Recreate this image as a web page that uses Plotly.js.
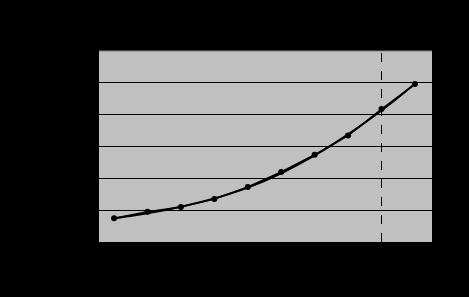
<!DOCTYPE html>
<html>
<head>
<meta charset="utf-8">
<script src="https://cdn.plot.ly/plotly-3.0.1.min.js"></script>
<style>html,body{margin:0;padding:0;background:#000;}#chart{width:469px;height:297px;}</style>
</head>
<body>
<div id="chart"></div>
<script>
var categories = [1, 2, 3, 4, 5, 6, 7, 8, 9, 10];
var values = [0.746, 0.953, 1.10, 1.353, 1.73, 2.20, 2.74, 3.345, 4.175, 4.96];
var trendValues = [0.74, 0.90, 1.11, 1.37, 1.71, 2.16, 2.72, 3.38, 4.13, 4.97];
var markerCategory = 9;
var yTicks = [0, 1, 2, 3, 4, 5, 6];

var traces = [
  {
    x: categories, y: trendValues, type: 'scatter', mode: 'lines',
    line: {color: '#000', width: 2, shape: 'spline', smoothing: 1.3},
    hoverinfo: 'skip', showlegend: false
  },
  {
    x: categories, y: values, type: 'scatter', mode: 'lines+markers',
    line: {color: '#000', width: 1.5},
    marker: {color: '#000', size: 6, symbol: 'circle'},
    showlegend: false
  }
];

var layout = {
  width: 469, height: 297,
  margin: {l: 99, r: 37, t: 51, b: 55},
  paper_bgcolor: '#000',
  plot_bgcolor: '#c0c0c0',
  font: {family: 'Liberation Sans, Arial, sans-serif', size: 10, color: '#000'},
  xaxis: {
    range: [0.55, 10.51], tickvals: categories, showgrid: false, zeroline: false,
    showline: false, ticks: '', tickfont: {color: '#000'}
  },
  yaxis: {
    range: [0, 6], tickvals: yTicks, showgrid: true, gridcolor: '#000', gridwidth: 1,
    zeroline: false, showline: false, ticks: '', tickfont: {color: '#000'}
  },
  shapes: [
    {type: 'line', xref: 'x', yref: 'paper', x0: markerCategory, x1: markerCategory, y0: 0, y1: 1,
     line: {color: '#000', width: 1, dash: 'dash'}},
    {type: 'line', xref: 'paper', yref: 'paper', x0: 0, x1: 1, y0: 1, y1: 1,
     line: {color: '#808080', width: 1}}
  ]
};

Plotly.newPlot('chart', traces, layout, {displayModeBar: false, staticPlot: true});
</script>
</body>
</html>
